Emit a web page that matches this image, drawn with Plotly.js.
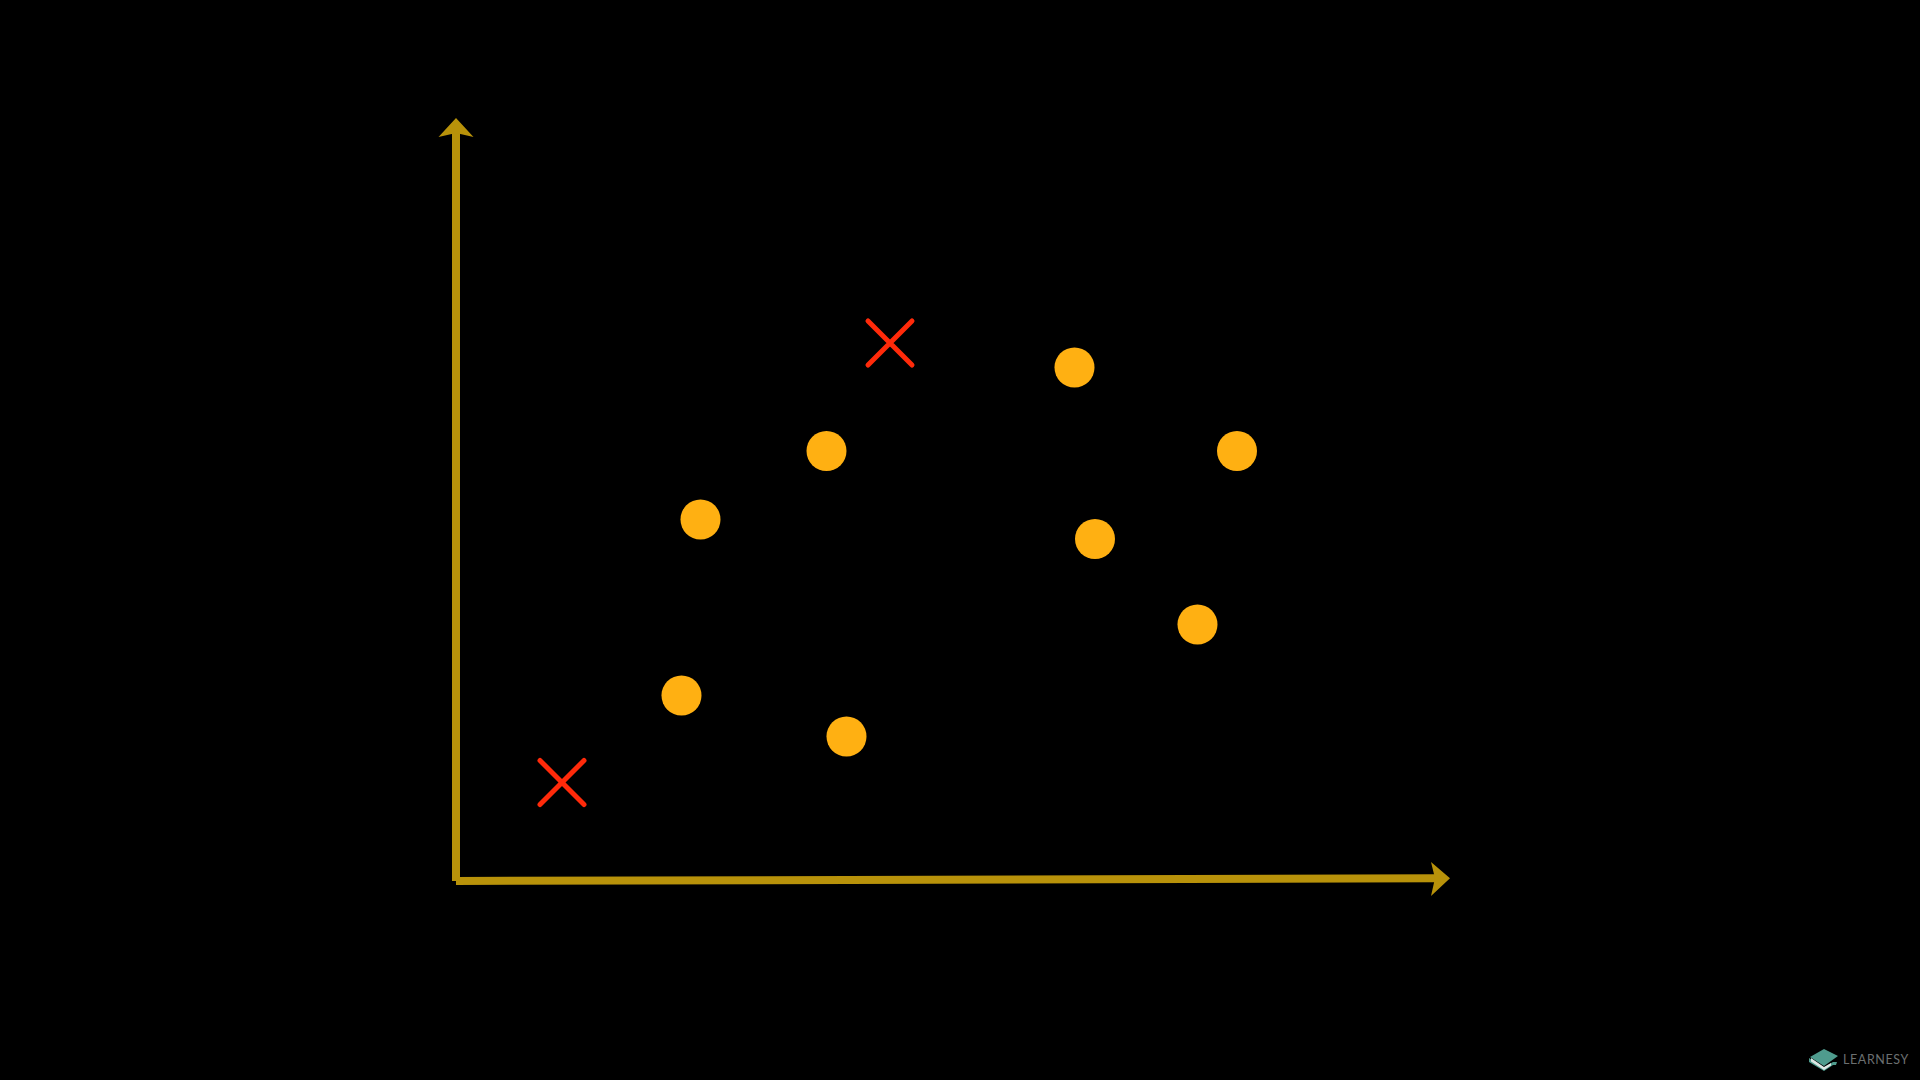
<!DOCTYPE html>
<html>
<head>
<meta charset="utf-8">
<script src="https://cdn.plot.ly/plotly-3.0.1.min.js"></script>
<style>
html,body{margin:0;padding:0;background:#000;overflow:hidden}
#chart{width:1920px;height:1080px}
.scatterlayer .point{stroke-linecap:round}
.annotation-text{letter-spacing:0.6px}
</style>
</head>
<body>
<div id="chart"></div>
<script>
const circleX = [618.5, 781, 370.5, 244.5, 639, 741.5, 225.5, 390.5];
const circleY = [513.5, 430, 430, 361.5, 342, 256.5, 185.5, 144.5];
const crossX = [434, 106];
const crossY = [538, 98.5];
const axisLineX = [0, 0];
const axisLineY = [0, 750];
const xAxisLineX = [0, 980];
const xAxisLineY = [0, 2.7];
const yArrowX = [0, -17.5, 0, 17.5, 0];
const yArrowY = [763, 744, 748, 744, 763];
const xArrowX = [994, 975, 979, 975, 994];
const xArrowY = [2.7, 19, 2.7, -15, 2.7];
const bookCoverX = [1354, 1368, 1382, 1368, 1354];
const bookCoverY = [-176, -168, -175, -185, -176];
const bookPagesX = [1355, 1368, 1375, 1375, 1368, 1355, 1355];
const bookPagesY = [-177, -186, -182, -184.5, -189, -180.5, -177];
const bookSpineX = [1353, 1368, 1377, 1381, 1380, 1377, 1368, 1353, 1353];
const bookSpineY = [-177, -186.5, -181, -181, -184, -184, -190, -181, -177];
const watermark = 'LEARNESY';

const originLeft = 456, originBottom = 881;
const W = 1920, H = 1080;
const axisColor = '#b8920a', circleColor = '#ffb012', crossColor = '#ff2a0a', teal = '#4f9c8e';

function area(x, y, color) {
  return {x, y, type: 'scatter', mode: 'lines', fill: 'toself', fillcolor: color,
          line: {color, width: 0}, hoverinfo: 'skip', showlegend: false};
}

const traces = [
  {x: axisLineX, y: axisLineY, type: 'scatter', mode: 'lines', line: {color: axisColor, width: 8}, showlegend: false},
  {x: xAxisLineX, y: xAxisLineY, type: 'scatter', mode: 'lines', line: {color: axisColor, width: 8}, showlegend: false},
  area(yArrowX, yArrowY, axisColor),
  area(xArrowX, xArrowY, axisColor),
  {x: circleX, y: circleY, type: 'scatter', mode: 'markers',
   marker: {symbol: 'circle', size: 40, color: circleColor, line: {width: 0}}, showlegend: false},
  {x: crossX, y: crossY, type: 'scatter', mode: 'markers',
   marker: {symbol: 'x-thin', size: 44, color: crossColor, line: {color: crossColor, width: 5}}, showlegend: false},
  area(bookSpineX, bookSpineY, teal),
  area(bookPagesX, bookPagesY, '#dfe8e5'),
  area(bookCoverX, bookCoverY, teal)
];

const layout = {
  width: W, height: H,
  margin: {l: 0, r: 0, t: 0, b: 0, pad: 0},
  paper_bgcolor: '#000', plot_bgcolor: '#000',
  showlegend: false,
  xaxis: {range: [-originLeft, W - originLeft], visible: false, fixedrange: true},
  yaxis: {range: [originBottom - H, originBottom], visible: false, fixedrange: true},
  annotations: [{
    text: watermark, xref: 'paper', yref: 'paper', x: 1841 / W, y: 1 - 1059 / H,
    xanchor: 'left', yanchor: 'middle', showarrow: false,
    font: {family: 'Lato, "Open Sans", sans-serif', size: 12.5, color: '#6b6f70'}
  }]
};
Plotly.newPlot('chart', traces, layout, {displayModeBar: false, staticPlot: true});
</script>
</body>
</html>
